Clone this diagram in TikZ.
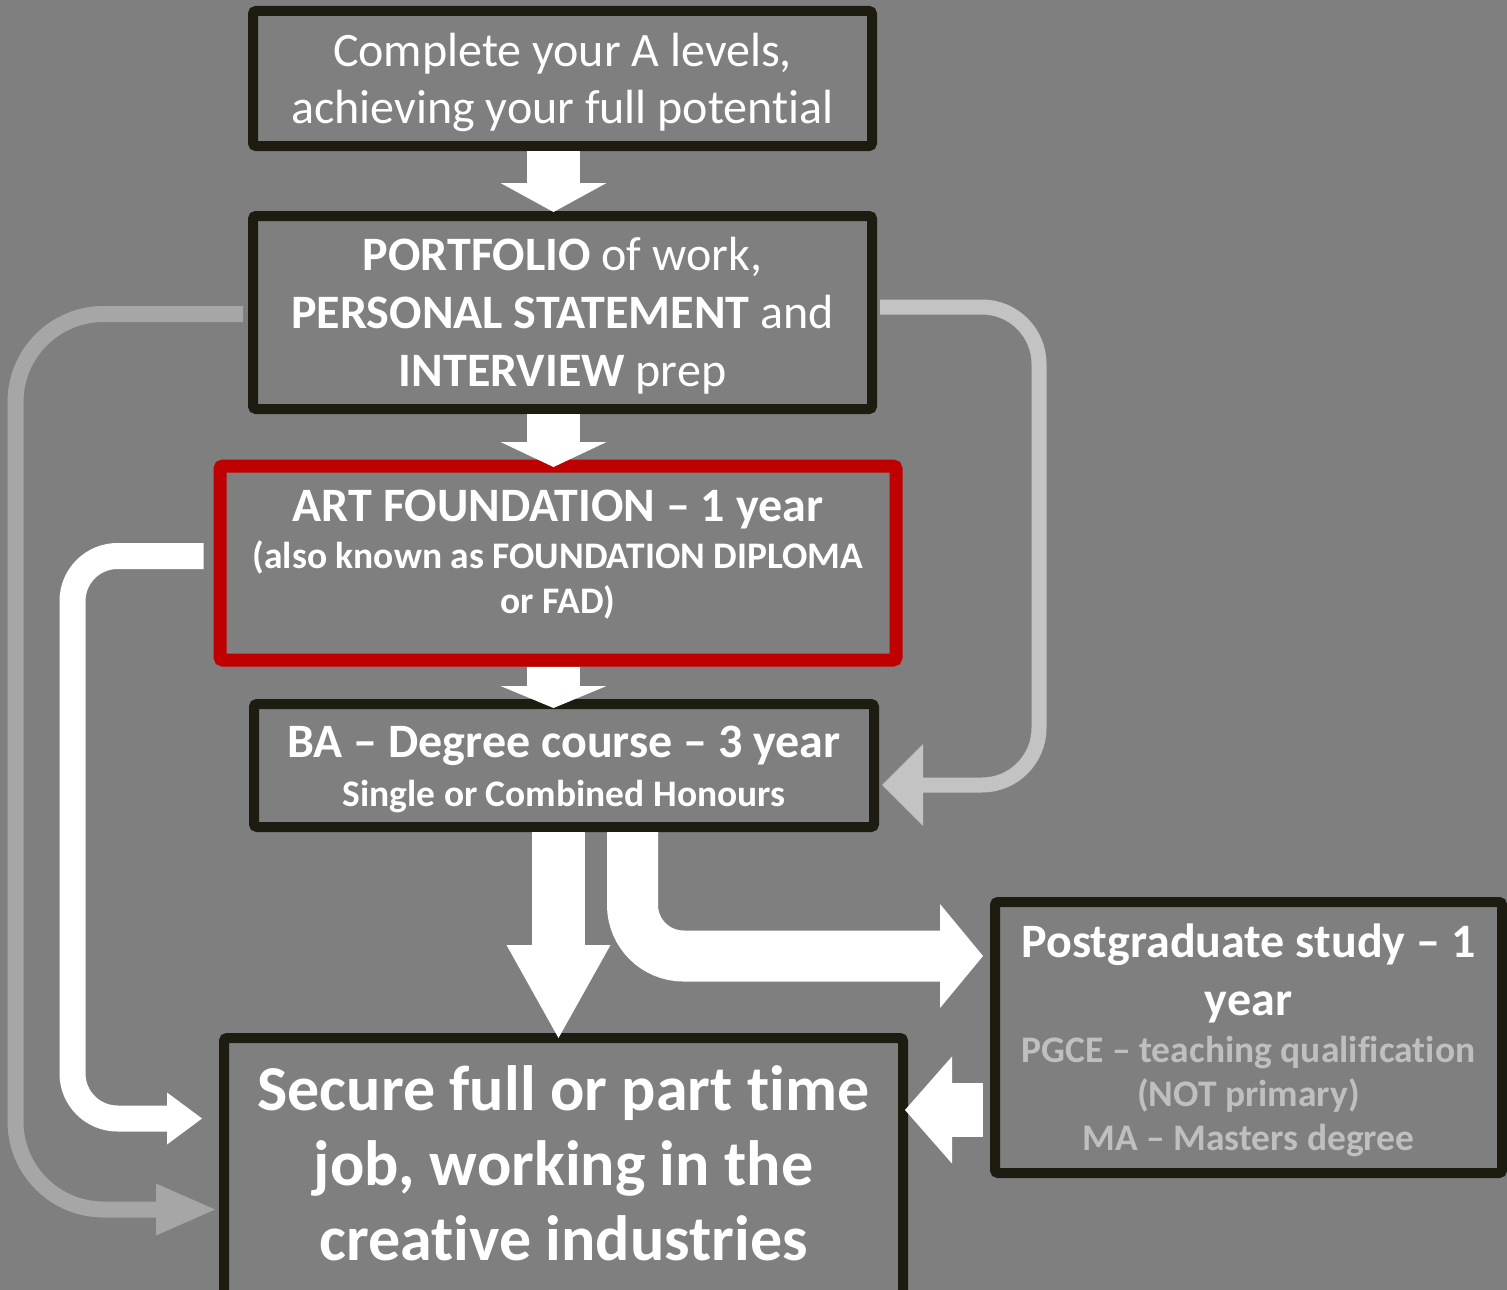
\documentclass[tikz,border=0pt]{standalone}
\usepackage{fontspec}
\setmainfont{Carlito}[Ligatures={NoCommon,NoContextual,NoRare}]
\definecolor{BG_Color}{RGB}{127, 127, 127}
\definecolor{BOX_Color}{RGB}{30, 28, 16}
\definecolor{RED_Color}{RGB}{192, 0, 0}
\definecolor{GREYL_Color}{RGB}{166, 166, 166}
\definecolor{GREYR_Color}{RGB}{195, 195, 195}
\definecolor{TEXTGREY_Color}{RGB}{191, 191, 191}
\usetikzlibrary{arrows.meta, calc}
\tikzset{
    stepbox/.style={rectangle,draw=BOX_Color,line width=10pt,rounded corners=3pt,inner sep=0pt}, % the dark boxes
    redbox/.style={stepbox,draw=RED_Color,line width=13pt},
    boxtext/.style={text=white,align=center,inner sep=0pt},
    bigarrow/.style={draw=white,line cap=butt}, % thick white connectors
    greyarrow/.style={line cap=butt,line width=15pt},
    }
\begin{document}
\begin{tikzpicture}
    [x=1pt, y=-1pt%,font=\small
    ]

\fill[BG_Color] (0,0) rectangle (1507,1290);
\useasboundingbox (0,0) rectangle (1507,1290);

% boxes
\node[stepbox,minimum width=619,minimum height=135] (alevels) at (562.5,78.5) {};
\node[stepbox,minimum width=619,minimum height=193] (portfolio) at (562.5,312.5) {};
\node[redbox,minimum width=676,minimum height=194] (foundation) at (558,563) {};
\node[stepbox,minimum width=620,minimum height=123] (degree) at (564,765.5) {};
\node[stepbox,minimum width=679,minimum height=257] (job) at (563.5,1166.5) {};
\node[stepbox,minimum width=507,minimum height=271] (postgrad) at (1248.5,1037.5) {};

% texts
\node[boxtext,font=\fontsize{48}{57}\selectfont] (alevelstext) at ([yshift=-4pt]alevels.center)
    {Complete your A levels,\\ achieving your full potential};
\node[boxtext,font=\fontsize{48}{58}\selectfont] (portfoliotext) at ([yshift=-3.5pt]portfolio.center)
    {\textbf{PORTFOLIO} of work,\\ \textbf{PERSONAL STATEMENT} and\\ \textbf{INTERVIEW} prep};
\node[boxtext,font=\fontsize{37.5}{45}\selectfont\bfseries] (foundationtext) at ([yshift=8pt]foundation.center)
    {{\fontsize{48}{58}\selectfont ART FOUNDATION – 1 year}\\[2pt] (also known as FOUNDATION DIPLOMA\\ or FAD)};
\node[boxtext,font=\fontsize{37.5}{47}\selectfont\bfseries] (degreetext) at ([yshift=-4pt]degree.center)
    {{\fontsize{48}{58}\selectfont BA – Degree course – 3 year}\\[2pt] Single or Combined Honours};
\node[boxtext,font=\fontsize{64}{75}\selectfont\bfseries] (jobtext) at ([yshift=3pt]job.center)
    {Secure full or part time\\ job, working in the\\ creative industries};
\node[boxtext,font=\fontsize{37.5}{44}\selectfont\bfseries] (postgradtext) at ([yshift=-3pt]postgrad.center)
    {{\fontsize{48}{58}\selectfont Postgraduate study – 1}\\[14pt] {\fontsize{48}{58}\selectfont year}\\[3pt]
    {\color{TEXTGREY_Color}PGCE – teaching qualification}\\ {\color{TEXTGREY_Color}(NOT primary)}\\
    {\color{TEXTGREY_Color}MA – Masters degree}};

% points for the bent connectors
\coordinate (whiteline) at (72.5,0);
\coordinate (greyleft) at (15.5,0);
\coordinate (greyright) at (1039,0);
\coordinate (fdout) at ([yshift=7pt]foundation.west);
\coordinate (jobinw) at ([yshift=48pt]job.west);
\coordinate (ptoutl) at ([yshift=-1.5pt]portfolio.west);
\coordinate (jobing) at ([yshift=-43pt]job.west);
\coordinate (ptoutr) at ([yshift=5.5pt]portfolio.east);
\coordinate (degin) at ([yshift=-19.5pt]degree.east);
\coordinate (pgout) at ([yshift=-72.5pt]postgrad.west);
\coordinate (jobine) at ([yshift=56.5pt]job.east);

% straight arrows down
\draw[bigarrow,line width=53pt,-{Triangle[length=29pt,width=106pt,line width=0pt]},shorten >=-1pt]
    ([xshift=-9pt]alevels.south) -- ([xshift=-9pt]portfolio.north);
\draw[bigarrow,line width=53pt,-{Triangle[length=25pt,width=106pt,line width=0pt]},shorten >=-7.5pt]
    ([xshift=-9pt]portfolio.south) -- ([xshift=-4.5pt]foundation.north);
\draw[bigarrow,line width=53pt,-{Triangle[length=22pt,width=106pt,line width=0pt]},shorten >=-9pt]
    ([xshift=-4.5pt]foundation.south) -- ([xshift=-10.5pt]degree.north);
\draw[bigarrow,line width=53pt,-{Triangle[length=93pt,width=104pt,line width=0pt]},shorten >=-5pt]
    ([xshift=-5.5pt]degree.south) -- ([xshift=-5pt]job.north);

% bent white arrows
\draw[bigarrow,line width=51pt,rounded corners=51pt,-{Triangle[length=43pt,width=104pt,line width=0pt]},shorten >=7pt]
    ([xshift=68.5pt]degree.south) |- ([yshift=81.5pt]postgrad.west);
\draw[bigarrow,line width=26pt,rounded corners=45pt,-{Triangle[length=35pt,width=52pt,line width=0pt]},shorten <=10pt,shorten >=17pt]
    (fdout) -| (whiteline |- jobinw) -- (jobinw);
\draw[bigarrow,line width=54pt,-{Triangle[length=47pt,width=107pt,line width=0pt]},shorten <=7pt,shorten >=-3pt]
    (pgout) -- (jobine);

% grey arrows
\draw[greyarrow,draw=GREYL_Color,line width=16pt,rounded corners=88pt,-{Triangle[length=59pt,width=52pt,line width=0pt]},shorten <=5pt,shorten >=4pt]
    (ptoutl) -| (greyleft |- jobing) -- (jobing);
\draw[greyarrow,draw=GREYR_Color,rounded corners=57pt,-{Triangle[length=41pt,width=82pt,line width=0pt]},shorten <=3pt,shorten >=3pt]
    (ptoutr) -| (greyright |- degin) -- (degin);
\end{tikzpicture}
\end{document}
